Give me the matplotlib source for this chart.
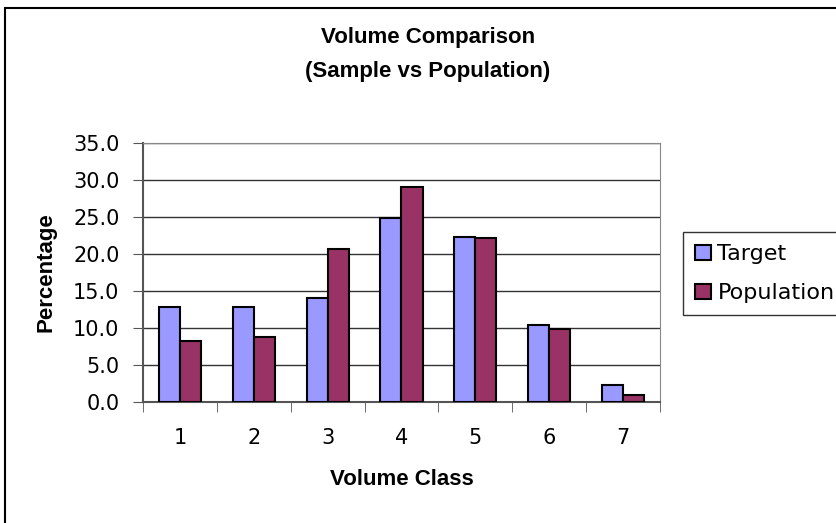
import numpy as np
import matplotlib.pyplot as plt
from matplotlib.patches import Rectangle

plt.rcParams['font.family'] = ['DejaVu Sans']

classes = ['1', '2', '3', '4', '5', '6', '7']
target = [12.9, 12.9, 14.0, 24.8, 22.3, 10.4, 2.3]
population = [8.3, 8.8, 20.7, 29.1, 22.1, 9.9, 1.0]
yticks = [0, 5, 10, 15, 20, 25, 30, 35]

bold = dict(family=['Liberation Sans', 'DejaVu Sans'], fontweight='bold', fontsize=16)

fig = plt.figure(figsize=(8.37, 5.23), dpi=100)
# outer chart-area border (runs off the right and bottom edges)
fig.patches.append(Rectangle((5/837, -0.05), 1.1, 1 - 8/523 + 0.05,
                             transform=fig.transFigure, fill=False,
                             edgecolor='black', linewidth=1.5))

ax = fig.add_axes([143/837, 121/523, 517/837, 259/523])
x = np.arange(len(classes))
w = 1/3.5
ax.bar(x - w/2, target, w, color='#9999FF', edgecolor='black', linewidth=1.5,
       label='Target', zorder=3)
ax.bar(x + w/2, population, w, color='#993366', edgecolor='black', linewidth=1.5,
       label='Population', zorder=3)

ax.set_xlim(-0.5, 6.5)
ax.set_ylim(0, 35)
ax.set_yticks(yticks)
ax.set_yticklabels(['%.1f' % v for v in yticks], fontsize=15)
ax.set_xticks(x)
ax.set_xticklabels(classes, fontsize=15)
ax.set_xticks(np.arange(-0.5, 7, 1), minor=True)
ax.tick_params(axis='x', which='major', length=0, pad=19)
ax.tick_params(axis='x', which='minor', length=7, direction='out', color='#555555')
ax.tick_params(axis='y', length=7, direction='out', color='#555555', pad=10)
ax.grid(axis='y', color='#333333', linewidth=1, zorder=0)
for s in ['top', 'right']:
    ax.spines[s].set_color('#888888')
for s in ['left', 'bottom']:
    ax.spines[s].set_color('#555555')
    ax.spines[s].set_linewidth(1.5)

ax.set_ylabel('Percentage', labelpad=12, **bold)
ax.set_xlabel('Volume Class', labelpad=15, **bold)

fig.text(428/837, 1 - 38/523, 'Volume Comparison', ha='center', va='center', **bold)
fig.text(428/837, 1 - 72/523, '(Sample vs Population)', ha='center', va='center', **bold)

leg = ax.legend(loc='upper left', bbox_to_anchor=(683/837, 1 - 232/523),
                bbox_transform=fig.transFigure, fontsize=16, frameon=True,
                fancybox=False, edgecolor='black', handlelength=0.7,
                handleheight=0.7, handletextpad=0.3, borderaxespad=0,
                borderpad=0.55, labelspacing=0.85)
leg.get_frame().set_linewidth(1)

fig.savefig('out.png', dpi=100)
